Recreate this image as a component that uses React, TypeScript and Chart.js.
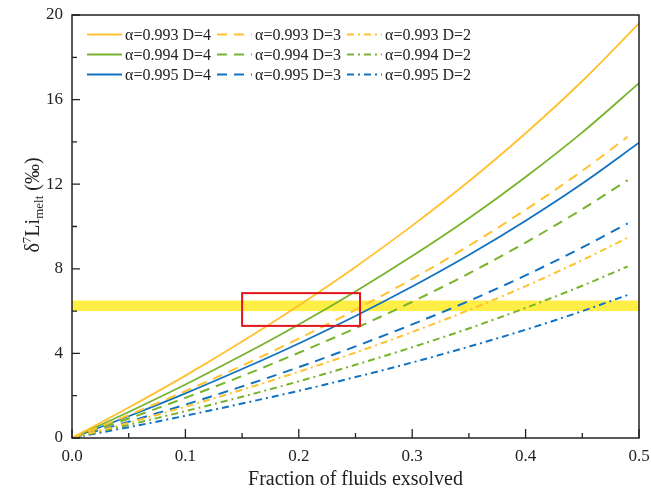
import { useEffect, useRef } from 'react';
import { Chart, registerables } from 'chart.js';
Chart.register(...registerables);

const fraction = [0, 0.05, 0.1, 0.15, 0.2, 0.25, 0.3, 0.35, 0.4, 0.45, 0.5];
const fractionShort = [0, 0.05, 0.1, 0.15, 0.2, 0.25, 0.3, 0.35, 0.4, 0.45, 0.49];

const a993D4 = [0, 1.44, 2.95, 4.56, 6.27, 8.09, 10.04, 12.14, 14.41, 16.88, 19.6];
const a994D4 = [0, 1.23, 2.53, 3.91, 5.37, 6.93, 8.6, 10.39, 12.34, 14.45, 16.78];
const a995D4 = [0, 1.03, 2.11, 3.26, 4.47, 5.77, 7.16, 8.65, 10.27, 12.03, 13.96];
const a993D3 = [0, 1.08, 2.22, 3.42, 4.7, 6.06, 7.52, 9.09, 10.79, 12.63, 14.24];
const a994D3 = [0, 0.92, 1.9, 2.93, 4.03, 5.19, 6.44, 7.78, 9.24, 10.82, 12.19];
const a995D3 = [0, 0.77, 1.58, 2.44, 3.35, 4.33, 5.37, 6.48, 7.69, 9.01, 10.15];
const a993D2 = [0, 0.72, 1.48, 2.28, 3.13, 4.04, 5.01, 6.05, 7.18, 8.41, 9.47];
const a994D2 = [0, 0.62, 1.27, 1.95, 2.68, 3.46, 4.29, 5.18, 6.15, 7.2, 8.11];
const a995D2 = [0, 0.51, 1.05, 1.63, 2.23, 2.88, 3.57, 4.32, 5.12, 6.0, 6.76];

const xMajorTicks = [0, 0.1, 0.2, 0.3, 0.4, 0.5];
const xMinorTicks = [0.05, 0.15, 0.25, 0.35, 0.45];
const yMajorTicks = [0, 4, 8, 12, 16, 20];
const yMinorTicks = [2, 6, 10, 14, 18];

const bandRange = [6.0, 6.5];
const boxX = [0.15, 0.254];
const boxY = [5.3, 6.85];

const xTitle = 'Fraction of fluids exsolved';

const ORANGE = '#FFC12E';
const GREEN = '#78B32C';
const BLUE = '#1272C2';
const SOLID: number[] = [];
const DASH = [10, 7];
const DASHDOT = [7, 4, 2, 4];
const FONT = "'Liberation Serif', 'Times New Roman', serif";

function pts(xs: number[], ys: number[]) {
  return xs.map((x, i) => ({ x, y: ys[i] }));
}

export default function App() {
  const ref = useRef<HTMLCanvasElement | null>(null);
  useEffect(() => {
    document.body.style.margin = '0';
    const canvas = ref.current;
    if (!canvas) return;

    const mk = (label: string, xs: number[], ys: number[], color: string, dash: number[]) => ({
      label,
      data: pts(xs, ys),
      borderColor: color,
      backgroundColor: color,
      borderDash: dash,
      borderWidth: dash.length ? 2 : 1.8,
      pointRadius: 0,
      fill: false,
      cubicInterpolationMode: 'monotone' as const,
    });

    const datasets = [
      mk('α=0.993 D=4', fraction, a993D4, ORANGE, SOLID),
      mk('α=0.993 D=3', fractionShort, a993D3, ORANGE, DASH),
      mk('α=0.993 D=2', fractionShort, a993D2, ORANGE, DASHDOT),
      mk('α=0.994 D=4', fraction, a994D4, GREEN, SOLID),
      mk('α=0.994 D=3', fractionShort, a994D3, GREEN, DASH),
      mk('α=0.994 D=2', fractionShort, a994D2, GREEN, DASHDOT),
      mk('α=0.995 D=4', fraction, a995D4, BLUE, SOLID),
      mk('α=0.995 D=3', fractionShort, a995D3, BLUE, DASH),
      mk('α=0.995 D=2', fractionShort, a995D2, BLUE, DASHDOT),
    ];

    const decor = {
      id: 'decor',
      beforeDatasetsDraw(chart: any) {
        const { ctx, chartArea, scales } = chart;
        const y1 = scales.y.getPixelForValue(bandRange[1]);
        const y0 = scales.y.getPixelForValue(bandRange[0]);
        ctx.save();
        ctx.fillStyle = 'rgba(255,236,50,0.9)';
        ctx.fillRect(chartArea.left, y1, chartArea.right - chartArea.left, y0 - y1);
        ctx.restore();
      },
      afterDatasetsDraw(chart: any) {
        const { ctx, chartArea, scales } = chart;
        const xs = scales.x;
        const ys = scales.y;
        ctx.save();
        const bx0 = xs.getPixelForValue(boxX[0]);
        const bx1 = xs.getPixelForValue(boxX[1]);
        const by0 = ys.getPixelForValue(boxY[0]);
        const by1 = ys.getPixelForValue(boxY[1]);
        ctx.strokeStyle = '#E3141B';
        ctx.lineWidth = 2;
        ctx.setLineDash([]);
        ctx.strokeRect(bx0, by1, bx1 - bx0, by0 - by1);
        ctx.strokeStyle = '#222';
        ctx.lineWidth = 1.5;
        ctx.strokeRect(chartArea.left, chartArea.top, chartArea.right - chartArea.left, chartArea.bottom - chartArea.top);
        ctx.lineWidth = 1.3;
        ctx.beginPath();
        xMajorTicks.forEach((v) => {
          const p = xs.getPixelForValue(v);
          ctx.moveTo(p, chartArea.bottom);
          ctx.lineTo(p, chartArea.bottom - 9);
        });
        xMinorTicks.forEach((v) => {
          const p = xs.getPixelForValue(v);
          ctx.moveTo(p, chartArea.bottom);
          ctx.lineTo(p, chartArea.bottom - 5);
        });
        yMajorTicks.forEach((v) => {
          const p = ys.getPixelForValue(v);
          ctx.moveTo(chartArea.left, p);
          ctx.lineTo(chartArea.left + 8, p);
        });
        yMinorTicks.forEach((v) => {
          const p = ys.getPixelForValue(v);
          ctx.moveTo(chartArea.left, p);
          ctx.lineTo(chartArea.left + 5, p);
        });
        ctx.stroke();
        ctx.restore();
      },
      afterDraw(chart: any) {
        const { ctx, chartArea } = chart;
        ctx.save();
        const colX = [87, 217, 347];
        const rowY = [34.5, 54.5, 74.5];
        ctx.font = `16px ${FONT}`;
        ctx.textBaseline = 'middle';
        ctx.textAlign = 'left';
        chart.data.datasets.forEach((ds: any, i: number) => {
          const r = Math.floor(i / 3);
          const c = i % 3;
          const x = colX[c];
          const y = rowY[r];
          ctx.strokeStyle = ds.borderColor;
          ctx.lineWidth = 2;
          ctx.setLineDash(ds.borderDash || []);
          ctx.beginPath();
          ctx.moveTo(x, y);
          ctx.lineTo(x + 35, y);
          ctx.stroke();
          ctx.setLineDash([]);
          ctx.fillStyle = '#222';
          ctx.fillText(ds.label, x + 38, y + 1);
        });
        ctx.font = `20px ${FONT}`;
        ctx.textAlign = 'center';
        ctx.textBaseline = 'alphabetic';
        ctx.fillStyle = '#222';
        ctx.fillText(xTitle, (chartArea.left + chartArea.right) / 2, 485);
        ctx.translate(39, 205);
        ctx.rotate(-Math.PI / 2);
        const big = `20px ${FONT}`;
        const small = `13px ${FONT}`;
        const parts: [string, string, number][] = [
          ['δ', big, 0],
          ['7', small, -8],
          ['Li', big, 0],
          ['melt', small, 4],
          [' (‰)', big, 0],
        ];
        let total = 0;
        parts.forEach(([t, f]) => {
          ctx.font = f;
          total += ctx.measureText(t).width;
        });
        let cx = -total / 2;
        ctx.textAlign = 'left';
        parts.forEach(([t, f, dy]) => {
          ctx.font = f;
          ctx.fillText(t, cx, dy);
          cx += ctx.measureText(t).width;
        });
        ctx.restore();
      },
    };

    const chart = new Chart(canvas, {
      type: 'line',
      data: { datasets: datasets as any },
      options: {
        animation: false,
        responsive: false,
        devicePixelRatio: 1,
        layout: { padding: { top: 15, right: 12, left: 0, bottom: 0 } },
        plugins: { legend: { display: false }, tooltip: { enabled: false } },
        scales: {
          x: {
            type: 'linear',
            min: 0,
            max: 0.5,
            grid: { display: false, drawTicks: false },
            border: { display: false },
            ticks: {
              stepSize: 0.1,
              padding: 8,
              color: '#222',
              font: { family: FONT, size: 17 },
              maxRotation: 0,
              callback: (v: any) => Number(v).toFixed(1),
            },
            afterFit: (s: any) => {
              s.height = 52;
              s.paddingLeft = 0;
              s.paddingRight = 0;
            },
          },
          y: {
            type: 'linear',
            min: 0,
            max: 20,
            grid: { display: false, drawTicks: false },
            border: { display: false },
            ticks: {
              stepSize: 4,
              padding: 9,
              color: '#222',
              font: { family: FONT, size: 17 },
            },
            afterFit: (s: any) => {
              s.width = 72;
              s.paddingTop = 0;
              s.paddingBottom = 0;
            },
          },
        },
      },
      plugins: [decor],
    });
    return () => chart.destroy();
  }, []);

  return (
    <div style={{ position: 'absolute', left: 0, top: 0 }}>
      <canvas ref={ref} width={651} height={490} style={{ display: 'block' }} />
    </div>
  );
}
